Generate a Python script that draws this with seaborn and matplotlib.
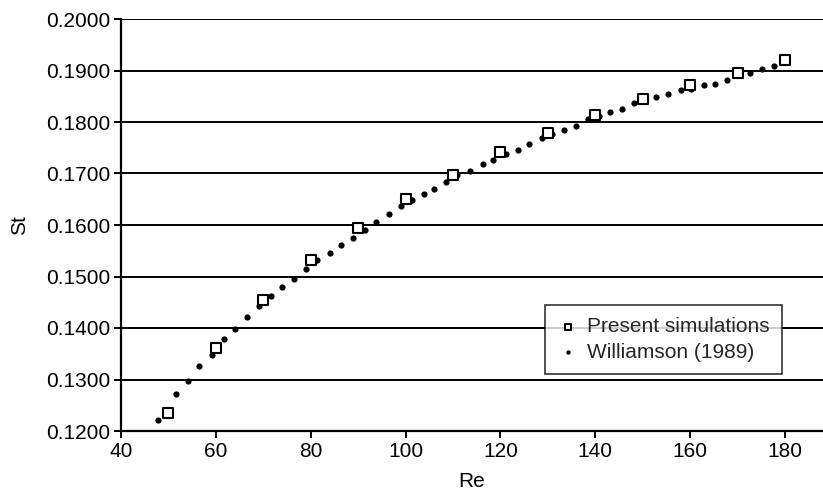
import matplotlib
matplotlib.use("Agg")
import matplotlib.pyplot as plt
import matplotlib.ticker as mticker
import seaborn as sns
import pandas as pd

sim_re = [50, 60, 70, 80, 90, 100, 110, 120, 130, 140, 150, 160, 170, 180]
sim_st = [0.1235, 0.1362, 0.1454, 0.1532, 0.1594, 0.1650, 0.1698, 0.1741,
          0.1778, 0.1813, 0.1844, 0.1871, 0.1895, 0.1920]

will_re = [47.9, 49.3, 51.6, 54.2, 56.5, 59.2, 61.8, 64.1, 66.5, 69.0, 71.6, 74.0,
           76.5, 78.9, 81.4, 84.0, 86.4, 88.9, 91.4, 93.8, 96.5, 99.0, 101.3, 103.8,
           106.0, 108.6, 110.9, 113.5, 116.3, 118.5, 121.1, 123.6, 126.0, 128.7,
           130.9, 133.5, 135.9, 138.5, 140.8, 143.1, 145.7, 148.1, 150.3, 152.8,
           155.3, 158.0, 160.2, 162.9, 165.2, 167.7, 170.3, 172.6, 175.1, 177.6]
will_st = [0.1221, 0.1241, 0.1272, 0.1297, 0.1326, 0.1348, 0.1379, 0.1399, 0.1421,
           0.1443, 0.1463, 0.1480, 0.1495, 0.1514, 0.1532, 0.1546, 0.1561, 0.1575,
           0.1590, 0.1606, 0.1621, 0.1636, 0.1649, 0.1660, 0.1669, 0.1684, 0.1698,
           0.1704, 0.1718, 0.1727, 0.1737, 0.1746, 0.1757, 0.1768, 0.1777, 0.1784,
           0.1792, 0.1805, 0.1811, 0.1819, 0.1826, 0.1837, 0.1843, 0.1848, 0.1854,
           0.1862, 0.1865, 0.1871, 0.1873, 0.1881, 0.1893, 0.1895, 0.1903, 0.1909]

x_ticks = [40, 60, 80, 100, 120, 140, 160, 180]
y_ticks = [0.12, 0.13, 0.14, 0.15, 0.16, 0.17, 0.18, 0.19, 0.20]

sns.set_theme(style="white")
plt.rcParams['font.family'] = ['Liberation Sans', 'DejaVu Sans']

fig = plt.figure(figsize=(8.23, 4.98), dpi=100)
ax = fig.add_axes([121/823, 1-431/498, (823-121)/823, (431-19)/498])

df_sim = pd.DataFrame({"Re": sim_re, "St": sim_st})
df_will = pd.DataFrame({"Re": will_re, "St": will_st})

for y in y_ticks:
    ax.axhline(y, color="black", lw=1.4, zorder=1)

sns.scatterplot(data=df_will, x="Re", y="St", ax=ax, marker="o", s=20,
                color="black", edgecolor="black", linewidth=0, zorder=3,
                label="Williamson (1989)")
sns.scatterplot(data=df_sim, x="Re", y="St", ax=ax, marker="s", s=42,
                facecolor="white", edgecolor="black", linewidth=1.5, zorder=4,
                label="Present simulations")

ax.set_xlim(40, 188)
ax.set_ylim(0.12, 0.20)
ax.set_xticks(x_ticks)
ax.set_yticks(y_ticks)
ax.yaxis.set_major_formatter(mticker.FormatStrFormatter("%.4f"))
ax.tick_params(axis="both", labelsize=15, colors="black", direction="out",
               length=5, width=1.4, bottom=True, left=True, pad=3)
for side in ["top", "right"]:
    ax.spines[side].set_visible(False)
for side in ["left", "bottom"]:
    ax.spines[side].set_color("black")
    ax.spines[side].set_linewidth(1.6)

ax.set_xlabel("Re", fontsize=15, color="black", labelpad=8)
ax.set_ylabel("St", fontsize=15, color="black", labelpad=12)

handles, labels = ax.get_legend_handles_labels()
order = [1, 0]
leg = ax.legend([handles[i] for i in order], [labels[i] for i in order],
                loc="lower right", bbox_to_anchor=((782-121)/702, (431-374)/412),
                borderaxespad=0, fontsize=15, frameon=True, fancybox=False,
                edgecolor="black", handletextpad=0.4, borderpad=0.6,
                labelspacing=0.3, handlelength=1.0, markerscale=0.7)
leg.get_frame().set_linewidth(1.2)
leg.set_zorder(10)

fig.savefig("out.png", dpi=100)
